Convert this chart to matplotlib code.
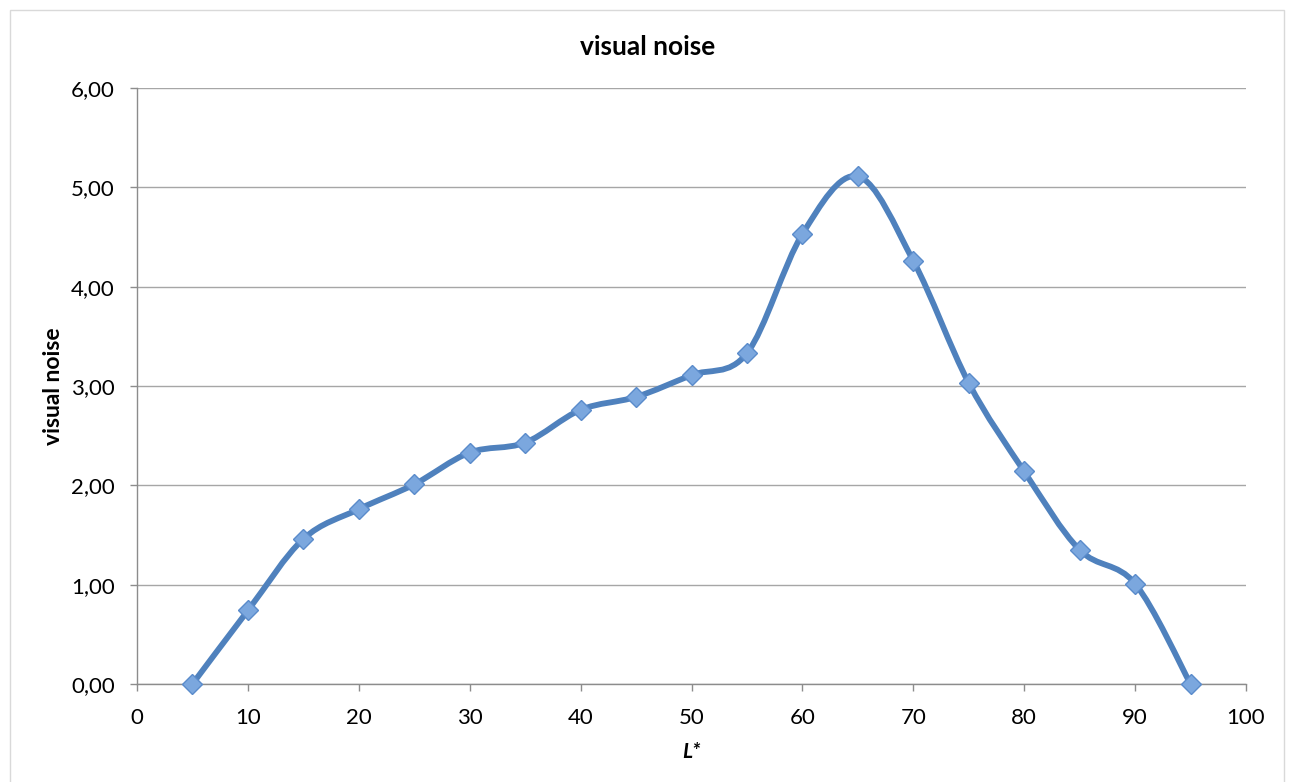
import numpy as np
import matplotlib
matplotlib.use("Agg")
import matplotlib.pyplot as plt
from matplotlib.patches import Rectangle
from matplotlib.path import Path
from matplotlib.patches import PathPatch

plt.rcParams['font.family'] = ['Lato', 'DejaVu Sans']

L_star = [5, 10, 15, 20, 25, 30, 35, 40, 45, 50, 55, 60, 65, 70, 75, 80, 85, 90, 95]
noise = [0.00, 0.74, 1.46, 1.76, 2.01, 2.33, 2.43, 2.76, 2.89, 3.11, 3.33, 4.53, 5.11, 4.26, 3.03, 2.14, 1.35, 1.01, 0.00]
x_ticks = [0, 10, 20, 30, 40, 50, 60, 70, 80, 90, 100]
y_ticks = [0, 1, 2, 3, 4, 5, 6]
y_labels = ['0,00', '1,00', '2,00', '3,00', '4,00', '5,00', '6,00']

fig = plt.figure(figsize=(12.94, 7.82), dpi=100)
ax = fig.add_axes([137/1294, 1-684/782, (1246-137)/1294, (684-88)/782])

# chart frame
fig.patches.append(Rectangle((10/1294, -0.01), (1284-10)/1294, 1-10/782+0.01,
                             transform=fig.transFigure, fill=False,
                             edgecolor='#d9d9d9', linewidth=1.0))

# Excel-style smoothed line (Catmull-Rom bezier)
xs = np.array(L_star, float)
ys = np.array(noise, float)
n = len(xs)
verts = [(xs[0], ys[0])]
codes = [Path.MOVETO]
for i in range(n - 1):
    p0 = np.array([xs[max(i-1, 0)], ys[max(i-1, 0)]])
    p1 = np.array([xs[i], ys[i]])
    p2 = np.array([xs[i+1], ys[i+1]])
    p3 = np.array([xs[min(i+2, n-1)], ys[min(i+2, n-1)]])
    c1 = p1 + (p2 - p0) / 6
    c2 = p2 - (p3 - p1) / 6
    verts += [tuple(c1), tuple(c2), tuple(p2)]
    codes += [Path.CURVE4] * 3
ax.add_patch(PathPatch(Path(verts, codes), fill=False, edgecolor='#4F81BD',
                       linewidth=4.2, capstyle='round', joinstyle='round', zorder=3))
ax.plot(L_star, noise, linestyle='none', marker='D', markersize=10,
        markerfacecolor='#7BA7DE', markeredgecolor='#5A8BCB', markeredgewidth=1.0,
        zorder=4, clip_on=False)

ax.set_xlim(0, 100)
ax.set_ylim(0, 6)
ax.set_xticks(x_ticks)
ax.set_yticks(y_ticks)
ax.set_yticklabels(y_labels)
ax.grid(axis='y', color='#a6a6a6', linewidth=1.0)
ax.set_axisbelow(True)
for s in ['top', 'right']:
    ax.spines[s].set_visible(False)
for s in ['left', 'bottom']:
    ax.spines[s].set_color('#8c8c8c')
    ax.spines[s].set_linewidth(1.0)
ax.tick_params(axis='both', colors='#8c8c8c', labelcolor='black', labelsize=16,
               length=5, width=1.0, direction='out')
ax.tick_params(axis='y', pad=11)
ax.tick_params(axis='x', pad=12)

fig.text(648/1294, 1-47/782, 'visual noise', fontsize=19, fontweight='bold',
         ha='center', va='center')
ax.set_xlabel('L*', fontsize=15, fontweight='bold', fontstyle='italic', labelpad=10)
ax.set_ylabel('visual noise', fontsize=16.5, fontweight='bold', labelpad=5)

fig.savefig('out.png', dpi=100, facecolor='white')
